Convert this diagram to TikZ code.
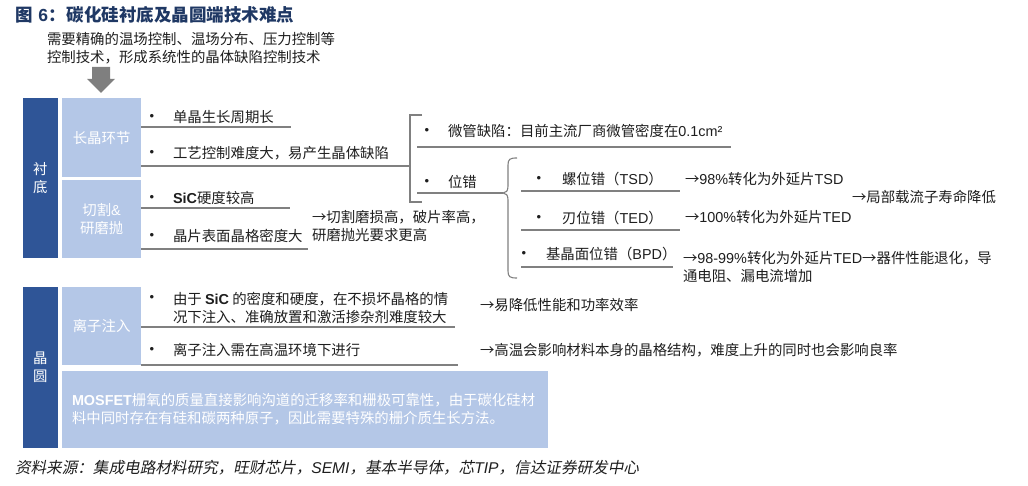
\documentclass[tikz,border=0pt]{standalone}
\usepackage{fontspec}
\setmainfont{Noto Sans CJK SC}
\newfontfamily\latf{Liberation Sans}
\newfontfamily\cjkit[FakeSlant=0.2]{Noto Sans CJK SC}
\newcommand\lat[1]{{\latf #1}}
\newcommand\rarr{→}
\definecolor{darkb}{HTML}{2F5597}
\definecolor{lightb}{HTML}{B4C7E7}
\definecolor{navy}{HTML}{1F3864}
\definecolor{lgray}{HTML}{808080}
\definecolor{agray}{HTML}{7F7F7F}
\definecolor{txt}{HTML}{1E1E1E}
\begin{document}
\begin{tikzpicture}[x=1pt,y=-1pt,
  every node/.style={inner sep=0pt, outer sep=0pt, font=\fontsize{14.4}{18}\selectfont, text=txt},
  dbox/.style={fill=darkb, text=white, align=center, minimum width=35},
  lbox/.style={fill=lightb, text=white, align=center, minimum width=79},
  item/.style={anchor=west},
  res/.style={anchor=west, align=left},
  bul/.style={anchor=center, font=\fontsize{13}{14}\selectfont\latf},
  uline/.style={draw=lgray, line width=1.4pt},
  brk/.style={draw=lgray, line width=1.1pt},
  titlest/.style={anchor=west, font=\fontsize{17.5}{20}\selectfont\bfseries, text=navy}]
\useasboundingbox (0,0) rectangle (1028,486);

% title and top note
\node[titlest] (title) at (15,15) {图\hspace{6pt}\lat{\bfseries 6}：\hspace{1pt}碳化硅衬底及晶圆端技术难点};
\node[res] (need) at (47,48) {需要精确的温场控制、温场分布、压力控制等\\控制技术，形成系统性的晶体缺陷控制技术};
\fill[agray] (92,67) -- (110,67) -- (110,79) -- (115,79) -- (101,93) -- (87,79) -- (92,79) -- cycle;

% substrate blocks
\node[dbox, minimum height=160] (sub) at (40.2,178) {衬\\底};
\node[lbox, minimum height=79] (grow) at (101.6,137.6) {长晶环节};
\node[lbox, minimum height=78] (cut) at (101.6,219) {切割\lat{\&}\\研磨抛};

% growth items
\node[bul] (b1) at (152,117) {•};
\node[item] (a1) at (173,117) {单晶生长周期长};
\node[bul] (b2) at (152,153) {•};
\node[item] (a2) at (173,153) {工艺控制难度大，易产生晶体缺陷};
\coordinate (l1s) at (141,127); \coordinate (l1e) at (291,127);
\coordinate (l2s) at (141,166); \coordinate (brkm) at (410,166);
\draw[uline] (l1s) -- (l1e);
\draw[uline] (l2s) -- (brkm);

% cutting items
\node[bul] (b3) at (152,198) {•};
\node[item] (a3) at (173,198) {\lat{\bfseries SiC}硬度较高};
\node[bul] (b4) at (152,236) {•};
\node[item] (a4) at (173,236) {晶片表面晶格密度大};
\coordinate (l3s) at (141,208); \coordinate (l3e) at (290,208);
\coordinate (l4s) at (141,249); \coordinate (l4e) at (308,249);
\draw[uline] (l3s) -- (l3e);
\draw[uline] (l4s) -- (l4e);
\node[res] (cutres) at (312,226) {\rarr 切割磨损高，破片率高，\\研磨抛光要求更高};

% bracket
\coordinate (brkt) at (410,115); \coordinate (brkb) at (410,202);
\draw[brk] (422,115) -- (brkt) -- (brkb) -- (422,202);

\node[bul] (b5) at (427,131) {•};
\node[item] (mp) at (448,131) {微管缺陷：目前主流厂商微管密度在\lat{0.1cm²}};
\coordinate (l5s) at (417,147); \coordinate (l5e) at (731,147);
\draw[uline] (l5s) -- (l5e);
\node[bul] (b6) at (427,182) {•};
\node[item] (dis) at (448,182) {位错};
\coordinate (l6s) at (417,193); \coordinate (brace) at (503,193);
\draw[uline] (l6s) -- (brace);

% curly brace
\draw[brk] (517,158) .. controls (510,158) and (508,159) .. (508,165) -- (508,186)
  .. controls (508,191) and (506,193) .. (brace)
  .. controls (506,193) and (508,195) .. (508,200) -- (508,271)
  .. controls (508,277) and (510,278) .. (517,278);

% dislocation types
\node[bul] (b7) at (539,179) {•};
\node[item] (tsd) at (562,179) {螺位错（\lat{TSD}）};
\node[bul] (b8) at (539,218) {•};
\node[item] (ted) at (562,218) {刃位错（\lat{TED}）};
\node[bul] (b9) at (524,254) {•};
\node[item] (bpd) at (546,254) {基晶面位错（\lat{BPD}）};
\coordinate (l7s) at (521,191); \coordinate (l7e) at (680,191);
\coordinate (l8s) at (521,230); \coordinate (l8e) at (680,230);
\coordinate (l9s) at (521,267); \coordinate (l9e) at (673,267);
\draw[uline] (l7s) -- (l7e);
\draw[uline] (l8s) -- (l8e);
\draw[uline] (l9s) -- (l9e);

\node[item] (r1) at (685,179) {\rarr\lat{98\%}转化为外延片\lat{TSD}};
\node[item] (r0) at (852,197) {\rarr 局部载流子寿命降低};
\node[item] (r2) at (685,217) {\rarr\lat{100\%}转化为外延片\lat{TED}};
\node[res] (r3) at (683,267) {\rarr\lat{98-99\%}转化为外延片\lat{TED}\rarr 器件性能退化，导\\通电阻、漏电流增加};

% wafer blocks
\node[dbox, minimum height=161] (wafer) at (40.2,367.4) {晶\\圆};
\node[lbox, minimum height=78] (ion) at (101.6,326) {离子注入};
\node[lbox, minimum width=486, minimum height=77, align=left, text width=466] (mos) at (305,409.5)
  {\lat{\bfseries MOSFET}栅氧的质量直接影响沟道的迁移率和栅极可靠性，由于碳化硅材\\料中同时存在有硅和碳两种原子，因此需要特殊的栅介质生长方法。};

\node[bul] (b10) at (152,298) {•};
\node[res] (c1) at (173,308) {由于 \lat{\bfseries SiC} 的密度和硬度，在不损坏晶格的情\\况下注入、准确放置和激活掺杂剂难度较大};
\node[bul] (b11) at (152,350) {•};
\node[item] (c2) at (173,350) {离子注入需在高温环境下进行};
\coordinate (l10s) at (141,327); \coordinate (l10e) at (455,327);
\coordinate (l11s) at (141,365); \coordinate (l11e) at (458,365);
\draw[uline] (l10s) -- (l10e);
\draw[uline] (l11s) -- (l11e);
\node[item] (r4) at (480,305) {\rarr 易降低性能和功率效率};
\node[item] (r5) at (480,350) {\rarr 高温会影响材料本身的晶格结构，难度上升的同时也会影响良率};

% source
\node[item, font=\fontsize{15.6}{18}\selectfont\cjkit] (src) at (15,468) {资料来源：集成电路材料研究，旺财芯片，\lat{\itshape SEMI}，基本半导体，芯\lat{\itshape TIP}，信达证券研发中心};
\end{tikzpicture}
\end{document}
